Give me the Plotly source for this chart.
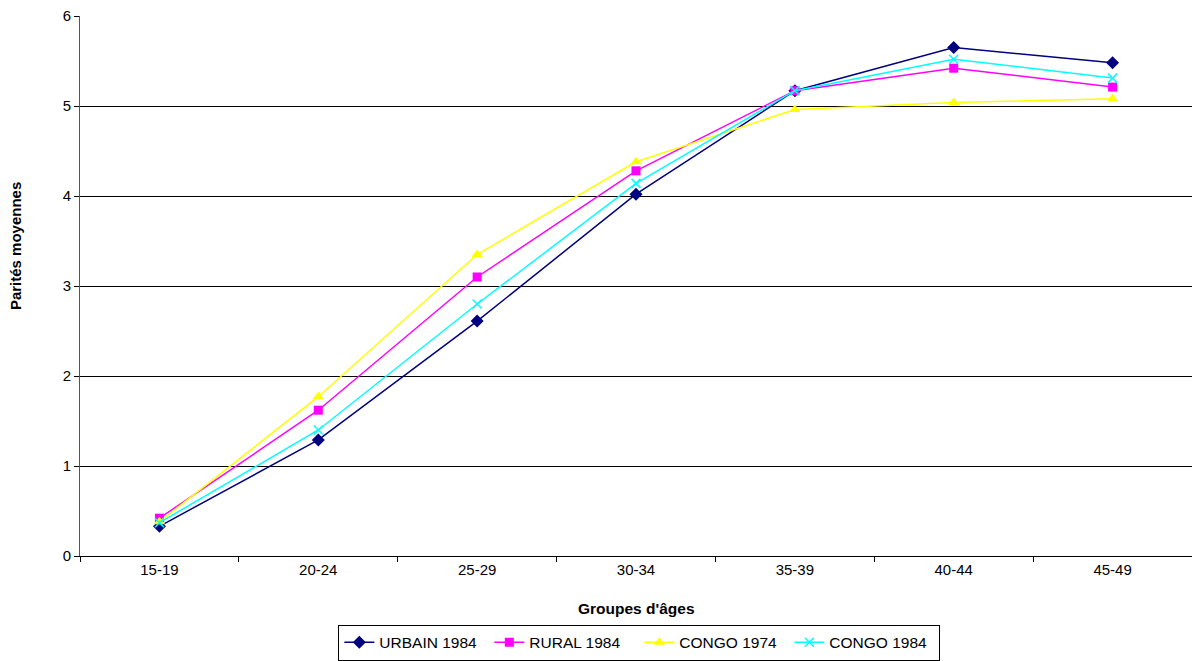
import plotly.graph_objects as go

# Groupes d'âges
age_groups = ["15-19", "20-24", "25-29", "30-34", "35-39", "40-44", "45-49"]

# Parités moyennes par série
urbain_1984 = [0.33, 1.29, 2.61, 4.02, 5.17, 5.65, 5.48]
rural_1984 = [0.42, 1.62, 3.10, 4.28, 5.17, 5.42, 5.21]
congo_1974 = [0.38, 1.77, 3.35, 4.38, 4.96, 5.04, 5.08]
congo_1984 = [0.37, 1.40, 2.80, 4.14, 5.17, 5.52, 5.31]

FONT = "Liberation Sans, Arial, sans-serif"

series = [
    ("URBAIN 1984", urbain_1984, "#000080", dict(symbol="diamond", size=10)),
    ("RURAL 1984", rural_1984, "#FF00FF", dict(symbol="square", size=9)),
    ("CONGO 1974", congo_1974, "#FFFF00", dict(symbol="triangle-up", size=10)),
    ("CONGO 1984", congo_1984, "#00FFFF", dict(symbol="x-thin", size=9,
                                               line=dict(color="#00FFFF", width=1.5))),
]

fig = go.Figure()
for name, vals, color, marker in series:
    fig.add_trace(go.Scatter(
        x=age_groups,
        y=vals,
        name=name,
        mode="lines+markers",
        line=dict(color=color, width=1.5),
        marker=dict(color=color, **marker),
    ))

fig.update_layout(
    width=1192,
    height=661,
    paper_bgcolor="white",
    plot_bgcolor="white",
    font=dict(family=FONT, size=15, color="black"),
    margin=dict(l=80, r=0, t=16, b=105, autoexpand=False),
    showlegend=True,
    legend=dict(
        orientation="h",
        x=0.503, xanchor="center",
        y=-0.194, yanchor="bottom",
        bordercolor="black",
        borderwidth=1,
        font=dict(size=15.5),
        itemwidth=30,
        entrywidth=105,
        tracegroupgap=0,
    ),
    xaxis=dict(
        type="category",
        range=[-0.5, 6.5],
        tickson="boundaries",
        ticks="outside",
        ticklen=5,
        tickcolor="black",
        showline=True,
        linecolor="black",
        linewidth=1,
        showgrid=False,
        tickfont=dict(size=15),
        automargin=False,
    ),
    yaxis=dict(
        range=[0, 6],
        dtick=1,
        ticks="outside",
        ticklen=5,
        tickcolor="black",
        showline=True,
        linecolor="#555555",
        linewidth=1,
        showgrid=True,
        gridcolor="black",
        gridwidth=1,
        zeroline=False,
        tickfont=dict(size=15),
        automargin=False,
    ),
    annotations=[
        dict(text="<b>Groupes d'âges</b>", xref="paper", yref="paper",
             x=0.5, y=-0.097, xanchor="center", yanchor="middle",
             showarrow=False, font=dict(size=15.5)),
        dict(text="<b>Parités moyennes</b>", xref="paper", yref="paper",
             x=-0.058, y=0.573, xanchor="center", yanchor="middle",
             textangle=-90, showarrow=False, font=dict(size=15)),
    ],
)

# the page has a default 8px body margin; drop it so the figure fills the window
fig.write_html("out.html", config={"displayModeBar": False},
               post_script="document.body.style.margin='0';")
